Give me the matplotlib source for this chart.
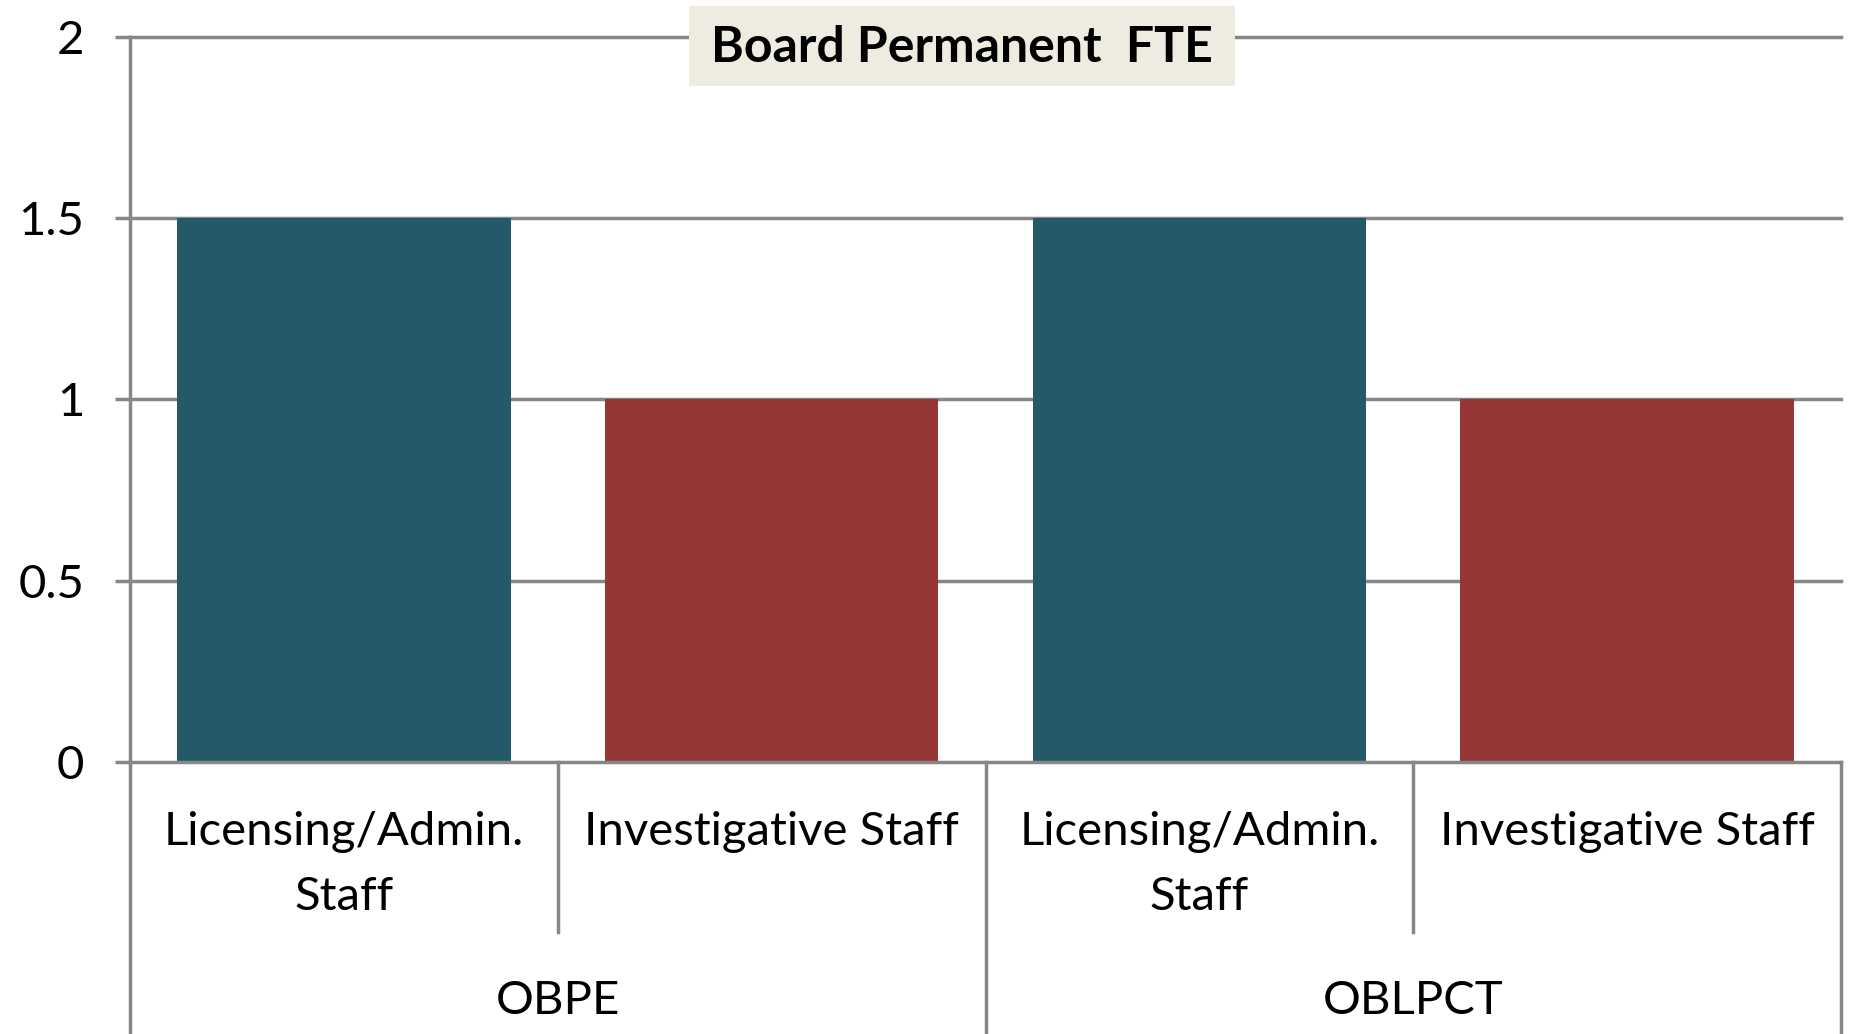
import matplotlib
matplotlib.use("Agg")
import matplotlib.pyplot as plt
import matplotlib.transforms as mtransforms
from matplotlib.patches import Rectangle

plt.rcParams['font.family'] = ['Lato', 'DejaVu Sans']

title = "Board Permanent  FTE"
groups = ["OBPE", "OBLPCT"]
subcats = ["Licensing/Admin.\nStaff", "Investigative Staff",
           "Licensing/Admin.\nStaff", "Investigative Staff"]
values = [1.5, 1.0, 1.5, 1.0]
bar_colors = ["#235968", "#953735", "#235968", "#953735"]
yticks = [0, 0.5, 1, 1.5, 2]
ytick_labels = ["0", "0.5", "1", "1.5", "2"]

GRID = "#878787"
FS = 34
W, H = 1850, 1034
fig = plt.figure(figsize=(W / 100, H / 100), dpi=100)
left, right, top, bottom = 130, 1841, 36.6, 762
ax = fig.add_axes([left / W, 1 - bottom / H, (right - left) / W, (bottom - top) / H])
ax_h = bottom - top

n = len(values)
xs = [i + 0.5 for i in range(n)]
ax.bar(xs, values, width=0.78, color=bar_colors, zorder=3)
ax.set_xlim(0, n)
ax.set_ylim(0, 2)

for s in ["top", "right"]:
    ax.spines[s].set_visible(False)
for s in ["left", "bottom"]:
    ax.spines[s].set_color(GRID)
    ax.spines[s].set_linewidth(2.5)
ax.spines["bottom"].set_zorder(4)

ax.set_yticks(yticks)
ax.set_yticklabels(ytick_labels, fontsize=FS)
ax.tick_params(axis="y", length=11, width=2.5, color=GRID, direction="out", pad=22)
ax.set_xticks([])
for y in yticks[1:]:
    ax.axhline(y, color=GRID, lw=2.5, zorder=1, clip_on=False)

trans = mtransforms.blended_transform_factory(ax.transData, ax.transAxes)
short_bot = -(932 - bottom) / ax_h
long_bot = -(H - bottom + 5) / ax_h
for i in range(n + 1):
    yb = long_bot if i % 2 == 0 else short_bot
    ax.plot([i, i], [0, yb], transform=trans, color=GRID, lw=2.5, clip_on=False, zorder=4)

line1_y = -(832 - bottom) / ax_h
line2_y = -(897 - bottom) / ax_h
grp_y = -(1001 - bottom) / ax_h
for x, lab in zip(xs, subcats):
    parts = lab.split("\n")
    for j, part in enumerate(parts):
        yy = line1_y if j == 0 else line2_y
        ax.text(x, yy, part, transform=trans, ha="center", va="center", fontsize=FS, color="black")
for g, lab in enumerate(groups):
    ax.text(2 * g + 1, grp_y, lab, transform=trans, ha="center", va="center", fontsize=FS, color="black")

bx0, bx1, by0, by1 = 689, 1235, 6, 86
fig.patches.append(Rectangle((bx0 / W, 1 - by1 / H), (bx1 - bx0) / W, (by1 - by0) / H,
                             transform=fig.transFigure, facecolor="#EEECE1", edgecolor="none", zorder=5))
fig.text((bx0 + bx1) / 2 / W, 1 - 48 / H, title, ha="center", va="center", fontsize=36,
         fontweight="bold", color="black", zorder=6)

fig.savefig("out.png", dpi=100)
